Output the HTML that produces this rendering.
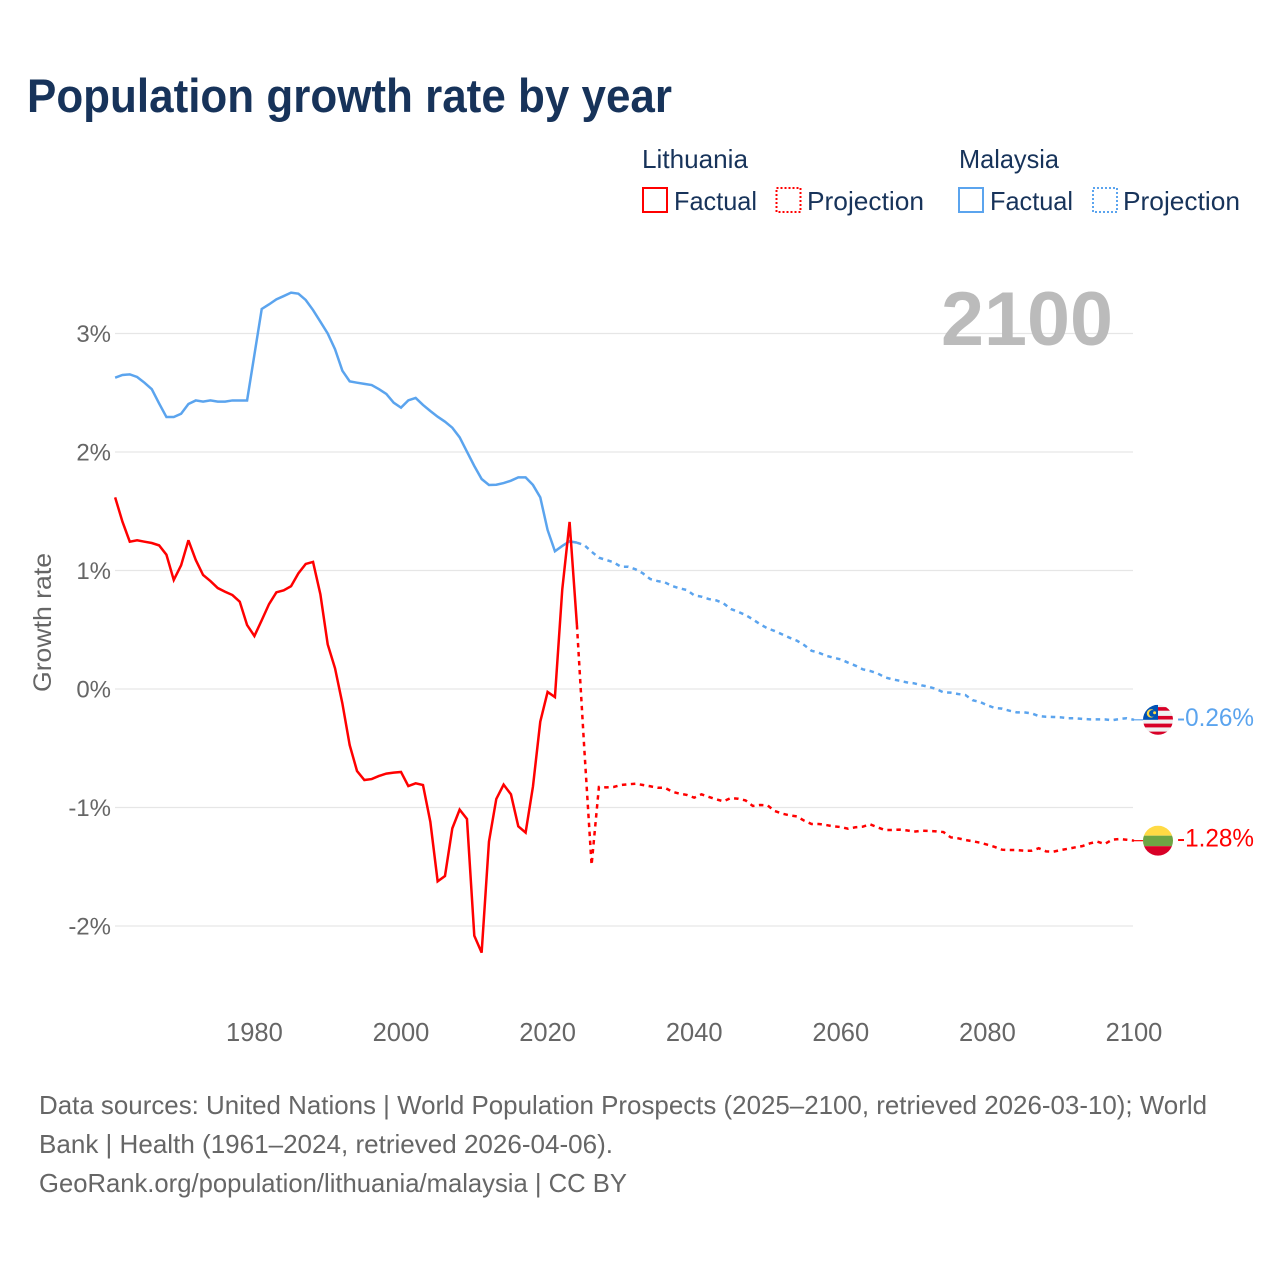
<!DOCTYPE html>
<html lang="en">
<head>
<meta charset="utf-8">
<title>Population growth rate by year</title>
<style>
  html, body { margin: 0; padding: 0; background: #ffffff; }
  body { width: 1280px; height: 1280px; overflow: hidden; }
  svg { display: block; font-family: "Liberation Sans", "DejaVu Sans", sans-serif; }
</style>
</head>
<body>
<svg id="chart" xmlns="http://www.w3.org/2000/svg" width="1280" height="1280" viewBox="0 0 1280 1280">
  <defs>
    <clipPath id="flag-clip-circle"><circle cx="0" cy="0" r="15"></circle></clipPath>
  </defs>
  <rect x="0" y="0" width="1280" height="1280" fill="#ffffff"></rect>

  <text x="27" y="112" font-size="47" font-weight="700" fill="#17335a" textLength="645" lengthAdjust="spacingAndGlyphs">Population growth rate by year</text>

  <g font-size="26" fill="#17335a">
    <text x="642" y="168" textLength="106" lengthAdjust="spacingAndGlyphs">Lithuania</text>
    <rect x="643" y="188" width="24" height="24" fill="none" stroke="#ff0000" stroke-width="2"></rect>
    <text x="674" y="210" textLength="83" lengthAdjust="spacingAndGlyphs">Factual</text>
    <rect x="776.5" y="188" width="24" height="24" fill="none" stroke="#ff0000" stroke-width="2" stroke-dasharray="2 2"></rect>
    <text x="807" y="210" textLength="117" lengthAdjust="spacingAndGlyphs">Projection</text>
    <text x="959" y="168" textLength="100" lengthAdjust="spacingAndGlyphs">Malaysia</text>
    <rect x="959" y="188" width="24" height="24" fill="none" stroke="#5ba4ee" stroke-width="2"></rect>
    <text x="990" y="210" textLength="83" lengthAdjust="spacingAndGlyphs">Factual</text>
    <rect x="1093" y="188" width="24" height="24" fill="none" stroke="#5ba4ee" stroke-width="2" stroke-dasharray="2 2"></rect>
    <text x="1123" y="210" textLength="117" lengthAdjust="spacingAndGlyphs">Projection</text>
  </g>

  <g id="grid"></g>
  <g id="y-axis"></g>
  <g id="x-axis"></g>

  <text transform="translate(51,622.5) rotate(-90)" text-anchor="middle" font-size="25" fill="#666666" textLength="139" lengthAdjust="spacingAndGlyphs">Growth rate</text>

  <text x="941" y="345" font-size="76" font-weight="700" fill="#bbbbbb" textLength="172" lengthAdjust="spacingAndGlyphs">2100</text>

  <g id="series"></g>
  <g id="end-markers"></g>

  <g font-size="26" fill="#666666">
    <text x="39" y="1114" textLength="1168" lengthAdjust="spacingAndGlyphs">Data sources: United Nations | World Population Prospects (2025–2100, retrieved 2026-03-10); World</text>
    <text x="39" y="1153" textLength="574" lengthAdjust="spacingAndGlyphs">Bank | Health (1961–2024, retrieved 2026-04-06).</text>
    <text x="39" y="1192" textLength="588" lengthAdjust="spacingAndGlyphs">GeoRank.org/population/lithuania/malaysia | CC BY</text>
  </g>
</svg>

<script>
const yTicks = [-2, -1, 0, 1, 2, 3];
const yTickLabels = ['-2%', '-1%', '0%', '1%', '2%', '3%'];
const xTicks = [1980, 2000, 2020, 2040, 2060, 2080, 2100];
const xTickLabels = ['1980', '2000', '2020', '2040', '2060', '2080', '2100'];

const factualStartYear = 1961;
const projectionStartYear = 2024;

const malaysiaFactual = [
  2.627, 2.65, 2.655, 2.633, 2.585, 2.53, 2.41, 2.295, 2.295,
  2.323, 2.405, 2.435, 2.425, 2.435, 2.425, 2.425, 2.435, 2.435, 2.435,
  2.82, 3.207, 3.246, 3.288, 3.316, 3.345, 3.336, 3.283, 3.198, 3.10,
  3.00, 2.867, 2.686, 2.596, 2.585, 2.575, 2.565, 2.53, 2.49, 2.416,
  2.374, 2.436, 2.456, 2.397, 2.346, 2.298, 2.256, 2.205, 2.124, 2.003,
  1.882, 1.772, 1.722, 1.724, 1.738, 1.758, 1.786, 1.786, 1.722, 1.617,
  1.342, 1.162, 1.207, 1.246, 1.235
];

const malaysiaProjection = [
  1.235, 1.215, 1.159, 1.108, 1.089, 1.069,
  1.032, 1.032, 1.01, 0.976, 0.928, 0.911, 0.90, 0.869, 0.85, 0.835,
  0.79, 0.779, 0.759, 0.748, 0.723, 0.675, 0.652, 0.624, 0.588, 0.546,
  0.512, 0.489, 0.461, 0.433, 0.408, 0.371, 0.323, 0.306, 0.281, 0.264,
  0.25, 0.222, 0.197, 0.166, 0.152, 0.132, 0.099, 0.082, 0.07, 0.056,
  0.048, 0.031, 0.019, 0, -0.028, -0.031, -0.042, -0.051, -0.095, -0.11,
  -0.138, -0.16, -0.166, -0.183, -0.197, -0.197, -0.205, -0.228, -0.234, -0.236,
  -0.239, -0.247, -0.247, -0.253, -0.256, -0.256, -0.256, -0.264, -0.253, -0.247,
  -0.26
];

const lithuaniaFactual = [
  1.617, 1.412, 1.243, 1.255, 1.243, 1.232, 1.212, 1.133, 0.92,
  1.044, 1.255, 1.089, 0.962, 0.911, 0.852, 0.821, 0.793, 0.737, 0.54,
  0.447, 0.58, 0.717, 0.816, 0.833, 0.867, 0.976, 1.055, 1.072, 0.80,
  0.377, 0.175, -0.121, -0.473, -0.692, -0.768, -0.76, -0.734, -0.714, -0.706,
  -0.70, -0.819, -0.796, -0.81, -1.12, -1.623, -1.578, -1.176, -1.018, -1.097,
  -2.082, -2.225, -1.288, -0.928, -0.807, -0.889, -1.159, -1.212, -0.824, -0.276,
  -0.025, -0.068, 0.84, 1.41, 0.54
];

const lithuaniaProjection = [
  0.54, -0.498, -1.485, -0.827, -0.83, -0.827,
  -0.81, -0.804, -0.799, -0.81, -0.821, -0.833, -0.833, -0.867, -0.883, -0.894,
  -0.917, -0.889, -0.911, -0.931, -0.948, -0.92, -0.926, -0.94, -0.987, -0.979,
  -0.982, -1.03, -1.052, -1.066, -1.075, -1.111, -1.139, -1.139, -1.148, -1.159,
  -1.165, -1.179, -1.167, -1.162, -1.142, -1.167, -1.19, -1.19, -1.187, -1.193,
  -1.204, -1.196, -1.198, -1.201, -1.207, -1.252, -1.26, -1.274, -1.285, -1.297,
  -1.314, -1.333, -1.356, -1.359, -1.359, -1.365, -1.365, -1.344, -1.37, -1.373,
  -1.359, -1.348, -1.336, -1.325, -1.302, -1.288, -1.308, -1.272, -1.266, -1.272,
  -1.28
];

const endLabels = ['-1.28%', '-0.26%'];

const SVG_NS = 'http://www.w3.org/2000/svg';
const RED = '#ff0000';
const BLUE = '#5ba4ee';

function xScale(year) {
  return 1134 - (2100 - year) * 7.33;
}

function yScale(value) {
  return 689 - value * 118.5;
}

function make(tag, attrs, parent) {
  const el = document.createElementNS(SVG_NS, tag);
  for (const key in attrs) {
    el.setAttribute(key, attrs[key]);
  }
  parent.appendChild(el);
  return el;
}

function linePath(values, startYear) {
  return values.map(function (v, i) {
    return (i === 0 ? 'M' : 'L') + xScale(startYear + i).toFixed(2) + ' ' + yScale(v).toFixed(2);
  }).join(' ');
}

const gridGroup = document.getElementById('grid');
const yAxisGroup = document.getElementById('y-axis');
const xAxisGroup = document.getElementById('x-axis');
const seriesGroup = document.getElementById('series');
const markerGroup = document.getElementById('end-markers');

yTicks.forEach(function (tick, i) {
  const line = make('line', { x1: 115, x2: 1133, y1: yScale(tick), y2: yScale(tick), stroke: '#e6e6e6', 'stroke-width': 1.3 }, gridGroup);
  
  
  const label = make('text', { x: 111, y: yScale(tick) + 8.5, 'text-anchor': 'end', 'font-size': 24, fill: '#666666' }, yAxisGroup);
  
  
  label.textContent = yTickLabels[i];
});

xTicks.forEach(function (tick, i) {
  const label = make('text', { x: xScale(tick), y: 1041, 'text-anchor': 'middle', 'font-size': 25.5, fill: '#666666' }, xAxisGroup);
  
  
  label.textContent = xTickLabels[i];
});

const malaysiaProjectionLine = make('path', { d: linePath(malaysiaProjection, projectionStartYear), fill: 'none', stroke: BLUE, 'stroke-width': 2.5, 'stroke-dasharray': '4.5 4.5' }, seriesGroup);



const malaysiaFactualLine = make('path', { d: linePath(malaysiaFactual, factualStartYear), fill: 'none', stroke: BLUE, 'stroke-width': 2.5 }, seriesGroup);



const lithuaniaProjectionLine = make('path', { d: linePath(lithuaniaProjection, projectionStartYear), fill: 'none', stroke: RED, 'stroke-width': 2.5, 'stroke-dasharray': '4.5 4.5', 'stroke-miterlimit': 3 }, seriesGroup);



const lithuaniaFactualLine = make('path', { d: linePath(lithuaniaFactual, factualStartYear), fill: 'none', stroke: RED, 'stroke-width': 2.5, 'stroke-miterlimit': 3 }, seriesGroup);



const lithuaniaEndY = yScale(lithuaniaProjection[lithuaniaProjection.length - 1]);
const malaysiaEndY = yScale(malaysiaProjection[malaysiaProjection.length - 1]);

const malaysiaLeader = make('line', { x1: 1134, x2: 1143, y1: malaysiaEndY, y2: malaysiaEndY, stroke: BLUE, 'stroke-width': 1.2 }, markerGroup);



const lithuaniaLeader = make('line', { x1: 1134, x2: 1143, y1: lithuaniaEndY, y2: lithuaniaEndY, stroke: RED, 'stroke-width': 1.2 }, markerGroup);



const malaysiaFlag = make('g', { transform: 'translate(1158,' + malaysiaEndY + ')', 'clip-path': 'url(#flag-clip-circle)' }, markerGroup);


make('rect', { x: -15, y: -15, width: 30, height: 30, fill: '#f0f0f0' }, malaysiaFlag);
make('rect', { x: 0, y: -12.7, width: 15, height: 3.6, fill: '#d80027' }, malaysiaFlag);
make('rect', { x: 0, y: -3.9, width: 15, height: 3.6, fill: '#d80027' }, malaysiaFlag);
make('rect', { x: -15, y: 3.8, width: 30, height: 3.8, fill: '#d80027' }, malaysiaFlag);
make('rect', { x: -15, y: 11.8, width: 30, height: 3.4, fill: '#d80027' }, malaysiaFlag);
make('rect', { x: -15, y: -15, width: 15, height: 15, fill: '#0052b4' }, malaysiaFlag);
make('circle', { cx: -7, cy: -6.4, r: 4.2, fill: '#ffda44' }, malaysiaFlag);
make('circle', { cx: -5.6, cy: -6.4, r: 3.4, fill: '#0052b4' }, malaysiaFlag);
make('circle', { cx: -3.4, cy: -7, r: 1.5, fill: '#ffda44' }, malaysiaFlag);

const lithuaniaFlag = make('g', { transform: 'translate(1158,' + lithuaniaEndY + ')', 'clip-path': 'url(#flag-clip-circle)' }, markerGroup);


make('rect', { x: -15, y: -15, width: 30, height: 10, fill: '#ffda44' }, lithuaniaFlag);
make('rect', { x: -15, y: -5, width: 30, height: 10.5, fill: '#6da544' }, lithuaniaFlag);
make('rect', { x: -15, y: 5.5, width: 30, height: 10, fill: '#d80027' }, lithuaniaFlag);

const malaysiaValueLabel = make('text', { x: 1177, y: malaysiaEndY + 6, 'font-size': 25, fill: BLUE, textLength: 77, lengthAdjust: 'spacingAndGlyphs' }, markerGroup);


malaysiaValueLabel.textContent = endLabels[1];

const lithuaniaValueLabel = make('text', { x: 1177, y: lithuaniaEndY + 6, 'font-size': 25, fill: RED, textLength: 77, lengthAdjust: 'spacingAndGlyphs' }, markerGroup);


lithuaniaValueLabel.textContent = endLabels[0];
</script>
</body>
</html>
